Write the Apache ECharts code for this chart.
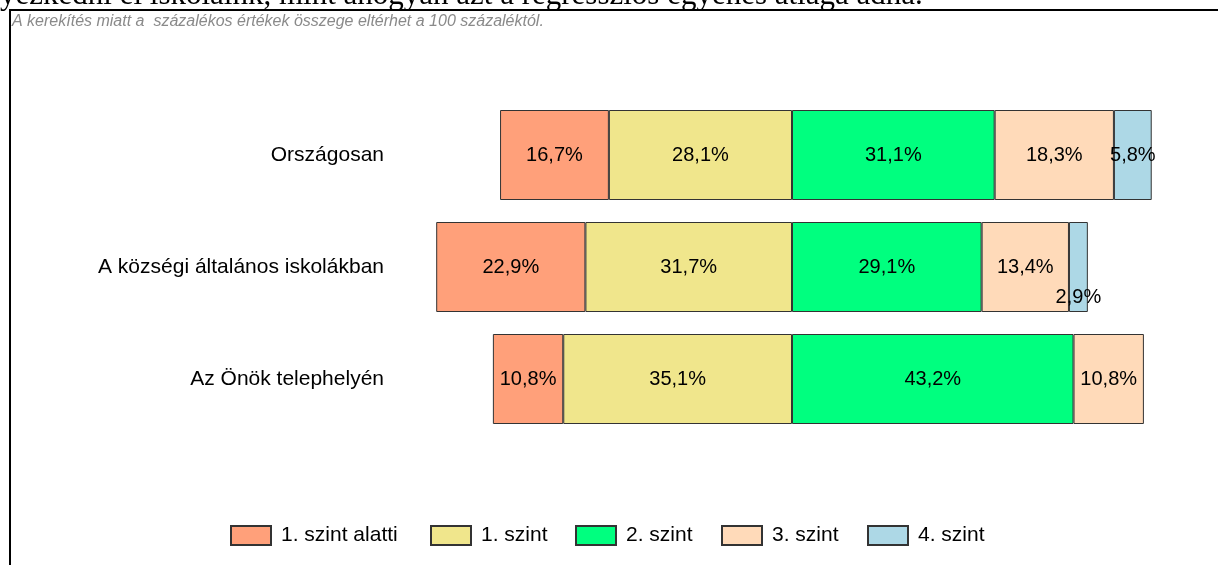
<!DOCTYPE html>
<html>
<head>
<meta charset="utf-8">
<script src="https://cdn.jsdelivr.net/npm/echarts@6/dist/echarts.min.js"></script>
<style>
  html, body { margin: 0; padding: 0; background: #fff; }
  #chart { width: 1218px; height: 565px; }
</style>
</head>
<body>
<div id="chart"></div>
<script>
// kategóriák (felülről lefelé)
const categories = ['Országosan', 'A községi általános iskolákban', 'Az Önök telephelyén'];
const levelNames = ['1. szint alatti', '1. szint', '2. szint', '3. szint', '4. szint'];

// százalékos értékek
const belowLevel1 = [16.7, 22.9, 10.8];
const level1 = [28.1, 31.7, 35.1];
const level2 = [31.1, 29.1, 43.2];
const level3 = [18.3, 13.4, 10.8];
const level4 = [5.8, 2.9, null];

const colors = {
    '1. szint alatti': '#FFA07A',
    '1. szint': '#F0E68C',
    '2. szint': '#00FF7F',
    '3. szint': '#FFDAB9',
    '4. szint': '#ADD8E6'
};

// jelmagyarázat elemeinek bal széle
const legendLeft = [230, 430, 575, 721, 867];

const FONT = 'Liberation Sans, Arial, sans-serif';

const chart = echarts.init(document.getElementById('chart'));

const fmt = p => Math.abs(p.value).toFixed(1).replace('.', ',') + '%';

// a negatív oldalon az első sorozat kerül a nullához
const makeSeries = (name, values, negative) => ({
    name: name,
    type: 'bar',
    stack: 'total',
    barWidth: 90,
    data: values.map((v, i) => {
        if (v == null) return null;
        const item = { value: negative ? -v : v };
        // a keskeny 2,9%-os sáv felirata lejjebb ül
        if (name === '4. szint' && i === 1) {
            item.label = { position: 'insideBottom', distance: 5 };
        }
        return item;
    }),
    itemStyle: { color: colors[name], borderColor: '#333', borderWidth: 1 },
    label: {
        show: true,
        position: 'inside',
        formatter: fmt,
        color: '#000',
        fontSize: 20,
        fontFamily: FONT
    }
});

const option = {
    animation: false,
    grid: { left: 401, right: 35, top: 99, height: 336 },
    xAxis: {
        type: 'value',
        min: -60,
        max: 60,
        show: false
    },
    yAxis: {
        type: 'category',
        inverse: true,
        data: categories,
        axisLine: { show: false },
        axisTick: { show: false },
        splitLine: { show: false },
        axisLabel: {
            color: '#000',
            fontSize: 21,
            margin: 17,
            fontFamily: FONT
        }
    },
    legend: levelNames.map((name, i) => ({
        data: [{ name: name, icon: 'rect' }],
        left: legendLeft[i],
        top: 525,
        padding: 0,
        itemWidth: 40,
        itemHeight: 19,
        itemGap: 0,
        textStyle: {
            color: '#000',
            fontSize: 21,
            fontFamily: FONT,
            padding: [0, 0, 0, 5]
        }
    })),
    graphic: [
        {
            type: 'text',
            left: 0,
            top: -20,
            style: {
                text: 'yezkedni el iskoláink, mint ahogyan azt a regressziós egyenes átlaga adná.',
                font: '31px "Liberation Serif", "DejaVu Serif", serif',
                fill: '#000'
            }
        },
        {
            type: 'line',
            shape: { x1: 9, y1: 10, x2: 1218, y2: 10 },
            style: { stroke: '#000', lineWidth: 2 }
        },
        {
            type: 'line',
            shape: { x1: 10, y1: 10, x2: 10, y2: 565 },
            style: { stroke: '#000', lineWidth: 2 }
        },
        {
            type: 'text',
            left: 12,
            top: 14,
            style: {
                text: 'A kerekítés miatt a  százalékos értékek összege eltérhet a 100 százaléktól.',
                font: 'italic 16px "Liberation Sans", Arial, sans-serif',
                fill: '#8a8a8a'
            }
        }
    ],
    series: [
        makeSeries('1. szint', level1, true),
        makeSeries('1. szint alatti', belowLevel1, true),
        makeSeries('2. szint', level2, false),
        makeSeries('3. szint', level3, false),
        makeSeries('4. szint', level4, false)
    ]
};

chart.setOption(option);
</script>
</body>
</html>
